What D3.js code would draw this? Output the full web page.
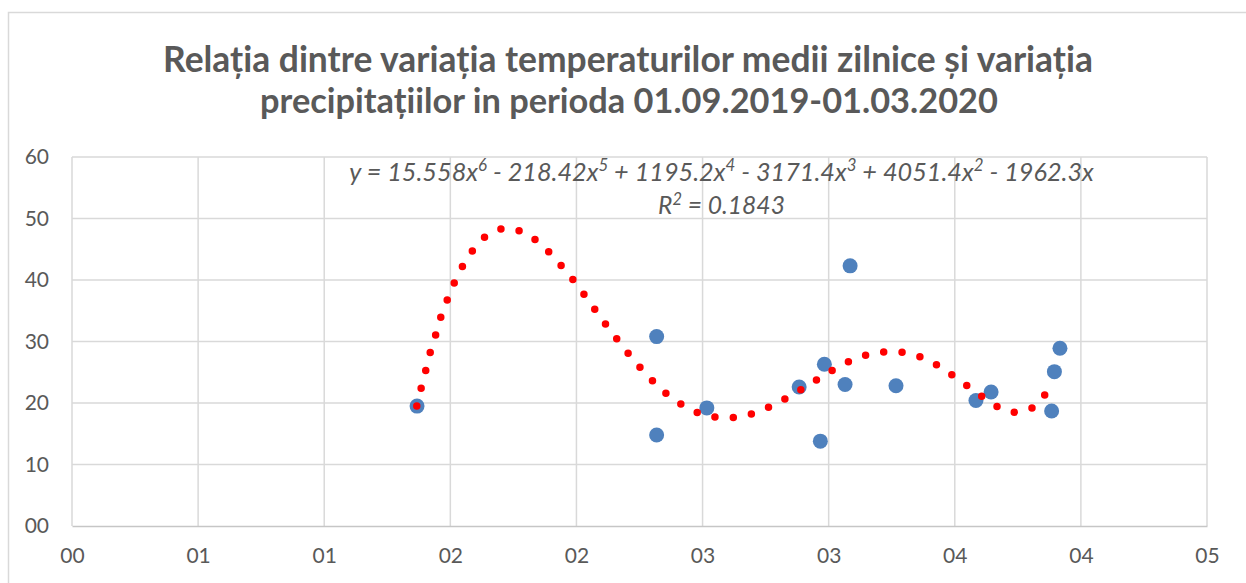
<!DOCTYPE html>
<html><head><meta charset="utf-8">
<script src="https://cdn.jsdelivr.net/npm/d3@7"></script>
<style>body{margin:0;background:#fff} svg{display:block}</style>
</head><body>
<svg id="c" width="1246" height="583"></svg>
<script>
const titleLines = ["Relația dintre variația temperaturilor medii zilnice și variația",
                    "precipitațiilor in perioda 01.09.2019-01.03.2020"];
const xTicks = [0, 0.5, 1, 1.5, 2, 2.5, 3, 3.5, 4, 4.5];
const xTickLabels = ["00","01","01","02","02","03","03","04","04","05"];
const yTicks = [0, 10, 20, 30, 40, 50, 60];
const yTickLabels = ["00","10","20","30","40","50","60"];
const pointX = [1.368, 2.318, 2.318, 2.517, 2.883, 2.967, 2.983, 3.065, 3.085, 3.267, 3.584, 3.644, 3.884, 3.895, 3.917];
const pointY = [19.5, 30.8, 14.8, 19.2, 22.6, 13.8, 26.3, 23.0, 42.3, 22.8, 20.4, 21.8, 18.7, 25.1, 28.9];
// trendline (6th order polynomial)
const trendX = [1.367,1.384,1.403,1.421,1.443,1.464,1.491,1.520,1.554,1.595,1.646,1.714,1.787,1.849,1.903,1.952,2.000,2.043,2.087,2.130,2.177,2.223,2.272,2.324,2.380,2.444,2.512,2.585,2.659,2.730,2.797,2.862,2.926,2.989,3.053,3.120,3.193,3.267,3.340,3.409,3.471,3.532,3.591,3.653,3.721,3.793,3.850,3.889];
const trendY = [19.50,22.37,25.39,28.32,31.24,34.17,37.09,39.92,42.62,45.12,47.28,48.37,47.81,46.14,44.03,41.75,39.32,36.93,34.44,32.01,29.57,27.18,24.91,22.71,20.76,19.14,18.00,17.60,17.87,18.73,20.02,21.49,23.07,24.70,26.19,27.41,28.16,28.32,27.83,26.65,25.07,23.28,21.56,19.77,18.57,18.90,20.96,23.56];
const eqParts = [["y = 15.558x",0],["6",1],[" - 218.42x",0],["5",1],[" + 1195.2x",0],["4",1],[" - 3171.4x",0],["3",1],[" + 4051.4x",0],["2",1],[" - 1962.3x",0]];
const r2Parts = [["R",0],["2",1],[" = 0.1843",0]];

const svg = d3.select("#c");
const txt = "#595959";
const grid = "#d9d9d9";

svg.append("rect").attr("x",8.5).attr("y",12.5).attr("width",1300).attr("height",700)
  .attr("fill","#fff").attr("stroke",grid).attr("stroke-width",1.5);

const x = d3.scaleLinear().domain([0,4.5]).range([72,1207]);
const y = d3.scaleLinear().domain([0,60]).range([526,157]);

// gridlines
svg.append("g").selectAll("line.h").data(yTicks.slice(1)).join("line")
  .attr("x1",x(0)).attr("x2",x(4.5)).attr("y1",d=>y(d)).attr("y2",d=>y(d))
  .attr("stroke",grid).attr("stroke-width",1.5);
svg.append("g").selectAll("line.v").data(xTicks).join("line")
  .attr("x1",d=>x(d)).attr("x2",d=>x(d)).attr("y1",y(60)).attr("y2",y(0))
  .attr("stroke",grid).attr("stroke-width",1.5);

// axes
const xAxis = d3.axisBottom(x).tickValues(xTicks).tickFormat((d,i)=>xTickLabels[i]).tickSize(0).tickPadding(22);
const gx = svg.append("g").attr("transform",`translate(0,${y(0)})`).call(xAxis);
gx.select(".domain").attr("stroke","#c6c6c6").attr("stroke-width",1.5);
gx.selectAll("text").attr("font-family","Lato").attr("font-size",21).attr("fill",txt);

const yAxis = d3.axisLeft(y).tickValues(yTicks).tickFormat((d,i)=>yTickLabels[i]).tickSize(0).tickPadding(23);
const gy = svg.append("g").attr("transform",`translate(${x(0)},0)`).call(yAxis);
gy.select(".domain").remove();
gy.selectAll("text").attr("font-family","Lato").attr("font-size",21).attr("fill",txt);

// points
const pts = pointX.map((v,i)=>({x:v,y:pointY[i]}));
svg.append("g").selectAll("circle").data(pts).join("circle")
  .attr("cx",d=>x(d.x)).attr("cy",d=>y(d.y)).attr("r",7.5).attr("fill","#4f81bd");

// trendline
const tr = trendX.map((v,i)=>[v,trendY[i]]);
const line = d3.line().x(d=>x(d[0])).y(d=>y(d[1])).curve(d3.curveCatmullRom);
svg.append("path").attr("d",line(tr)).attr("fill","none").attr("stroke","#ff0000")
  .attr("stroke-width",7.5).attr("stroke-linecap","round").attr("stroke-dasharray","0 18.4");

function fitSize(sel, base, target){
  const w = sel.node().getComputedTextLength();
  sel.attr("font-size", base*target/w);
}

// title
const t1 = svg.append("text").attr("x",628).attr("y",72).attr("text-anchor","middle")
  .attr("font-family","Lato").attr("font-weight","bold").attr("font-size",31).attr("fill",txt).text(titleLines[0]);
fitSize(t1, 31, 930);
const t2 = svg.append("text").attr("x",629).attr("y",113).attr("text-anchor","middle")
  .attr("font-family","Lato").attr("font-weight","bold").attr("font-size",31).attr("fill",txt).text(titleLines[1]);
fitSize(t2, 31, 738);

function rich(parts, cx, by, target){
  const t = svg.append("text").attr("x",cx).attr("y",by).attr("text-anchor","middle")
    .attr("font-family","Lato").attr("font-style","italic").attr("fill",txt);
  const sp = parts.map(([s,sup])=>t.append("tspan").attr("font-size",sup?14:21).attr("baseline-shift",sup?"8":null).text(s));
  const w = t.node().getComputedTextLength();
  const k = target/w;
  parts.forEach(([s,sup],i)=>sp[i].attr("font-size",(sup?14:21)*k).attr("baseline-shift",sup?8*k:null));
  return t;
}
rich(eqParts, 721.5, 181, 745);
rich(r2Parts, 721.5, 214, 127);
</script>
</body></html>
